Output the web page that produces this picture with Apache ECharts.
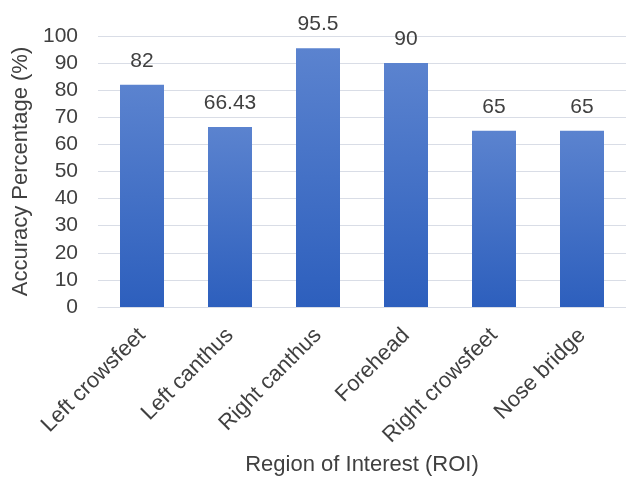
<!DOCTYPE html>
<html>
<head>
<meta charset="utf-8">
<script src="https://cdn.jsdelivr.net/npm/echarts@6/dist/echarts.min.js"></script>
<style>
  html, body { margin: 0; padding: 0; background: #fff; overflow: hidden; }
  #chart { width: 626px; height: 481px; }
</style>
</head>
<body>
<div id="chart"></div>
<script>
// Accuracy per facial region of interest
const regions = ['Left crowsfeet', 'Left canthus', 'Right canthus', 'Forehead', 'Right crowsfeet', 'Nose bridge'];
const accuracy = [82, 66.43, 95.5, 90, 65, 65];
const yTicks = { min: 0, max: 100, step: 10 };

const chart = echarts.init(document.getElementById('chart'), null, { renderer: 'canvas' });
const font = 'Liberation Sans, Arial, sans-serif';
const textColor = '#404040';

chart.setOption({
  animation: false,
  grid: { left: 98, right: 0, top: 36, bottom: 166, containLabel: false },
  xAxis: {
    type: 'category',
    data: regions,
    name: 'Region of Interest (ROI)',
    nameLocation: 'middle',
    nameGap: 146,
    nameTextStyle: { fontFamily: font, fontSize: 22, color: textColor },
    axisLine: { show: true, lineStyle: { color: '#d9dde6', width: 1 } },
    axisTick: { show: false },
    axisLabel: { rotate: 45, margin: 25, fontFamily: font, fontSize: 22, color: textColor, interval: 0 }
  },
  yAxis: {
    type: 'value',
    min: yTicks.min,
    max: yTicks.max,
    interval: yTicks.step,
    name: 'Accuracy Percentage (%)',
    nameLocation: 'middle',
    nameGap: 62,
    nameTextStyle: { fontFamily: font, fontSize: 22, color: textColor },
    axisLine: { show: false },
    axisTick: { show: false },
    axisLabel: { margin: 20, fontFamily: font, fontSize: 21, color: textColor },
    splitLine: { lineStyle: { color: '#d9dde6', width: 1 } }
  },
  series: [{
    type: 'bar',
    data: accuracy,
    barWidth: '50%',
    itemStyle: {
      color: new echarts.graphic.LinearGradient(0, 0, 0, 1, [
        { offset: 0, color: '#5b83cf' },
        { offset: 1, color: '#2d5fbd' }
      ])
    },
    label: {
      show: true,
      position: 'top',
      distance: 13,
      fontFamily: font,
      fontSize: 21,
      color: textColor
    }
  }]
});
</script>
</body>
</html>
